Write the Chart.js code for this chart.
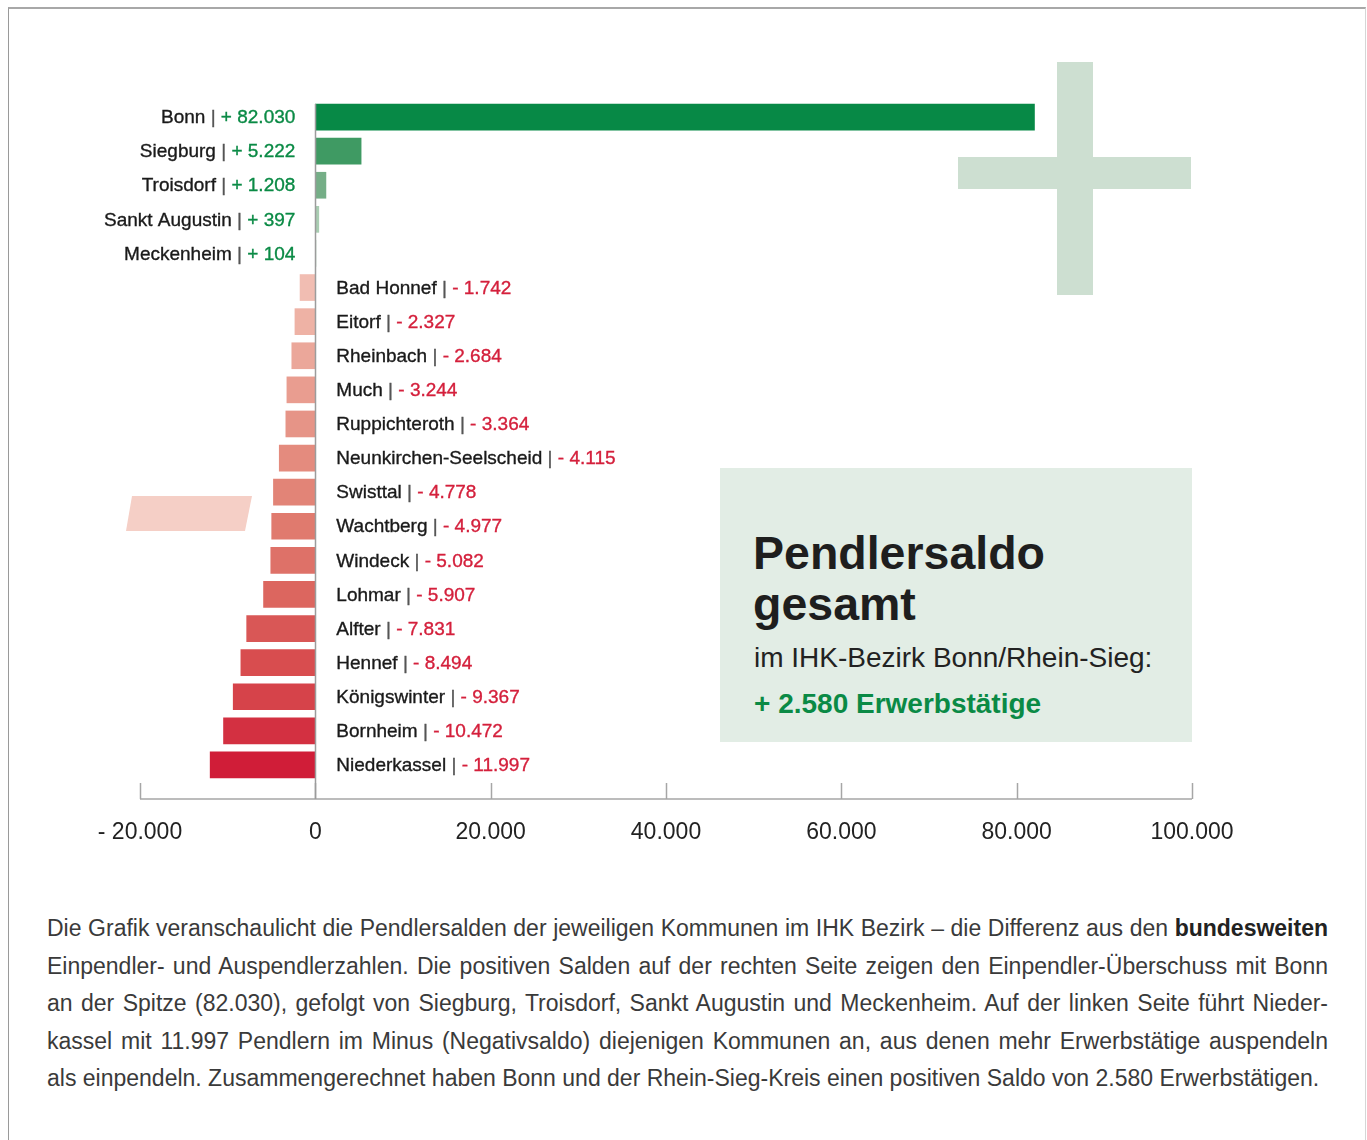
<!DOCTYPE html>
<html lang="de">
<head>
<meta charset="utf-8">
<title>Pendlersaldo</title>
<script src="https://cdn.jsdelivr.net/npm/chart.js"></script>
<style>
  html, body { margin: 0; padding: 0; background: #fff; }
  body { width: 1367px; height: 1140px; position: relative; overflow: hidden;
         font-family: "Liberation Sans", Arial, Helvetica, sans-serif; color: #222; }
  .frame { position: absolute; left: 8px; top: 7px; width: 1356px; height: 1200px;
           border-top: 2px solid #a8a8a8; border-left: 1px solid #9a9a9a; border-right: 1px solid #d6d6d6; }
  .plus-v { position: absolute; left: 1057px; top: 62px; width: 36px; height: 233px; background: #cddfd1; }
  .plus-h { position: absolute; left: 958px; top: 157px; width: 233px; height: 32px; background: #cddfd1; }
  .minus { position: absolute; left: 0; top: 0; }
  .box { position: absolute; left: 720px; top: 468px; width: 472px; height: 274px; background: #e2ede5; }
  .box-title { position: absolute; left: 753px; top: 528px; font-size: 46.5px; line-height: 51px; font-weight: bold; color: #1e1e1e; }
  .box-sub { position: absolute; left: 754px; top: 641px; font-size: 28px; line-height: 34px; color: #222; white-space: nowrap; }
  .box-sum { position: absolute; left: 754px; top: 687px; font-size: 28px; line-height: 34px; font-weight: bold; color: #0a8a45; white-space: nowrap; }
  #chart { position: absolute; left: 0; top: 0; }
  .text { position: absolute; left: 47px; top: 910px; width: 1281px; font-size: 23px; line-height: 37.5px; color: #3a3a3a; }
  .text div { text-align: justify; text-align-last: justify; white-space: nowrap; }
  .text div.last { text-align-last: left; }
  .text b { color: #222; }
</style>
</head>
<body>
<div class="frame"></div>
<div class="plus-v"></div>
<div class="plus-h"></div>
<svg class="minus" width="300" height="600"><polygon points="132,496 252,496 245,531 126,531" fill="#f5cfc6"/></svg>
<div class="box"></div>
<div class="box-title">Pendlersaldo<br>gesamt</div>
<div class="box-sub">im IHK-Bezirk Bonn/Rhein-Sieg:</div>
<div class="box-sum">+ 2.580 Erwerbstätige</div>
<canvas id="chart" width="1367" height="880"></canvas>
<div class="text">
  <div>Die Grafik veranschaulicht die Pendlersalden der jeweiligen Kommunen im IHK Bezirk – die Differenz aus den <b>bundesweiten</b></div>
  <div>Einpendler- und Auspendlerzahlen. Die positiven Salden auf der rechten Seite zeigen den Einpendler-Überschuss mit Bonn</div>
  <div>an der Spitze (82.030), gefolgt von Siegburg, Troisdorf, Sankt Augustin und Meckenheim. Auf der linken Seite führt Nieder-</div>
  <div>kassel mit 11.997 Pendlern im Minus (Negativsaldo) diejenigen Kommunen an, aus denen mehr Erwerbstätige auspendeln</div>
  <div class="last">als einpendeln. Zusammengerechnet haben Bonn und der Rhein-Sieg-Kreis einen positiven Saldo von 2.580 Erwerbstätigen.</div>
</div>
<script>
// Kommunen im IHK-Bezirk, von oben nach unten
const cities = ['Bonn', 'Siegburg', 'Troisdorf', 'Sankt Augustin', 'Meckenheim',
  'Bad Honnef', 'Eitorf', 'Rheinbach', 'Much', 'Ruppichteroth', 'Neunkirchen-Seelscheid',
  'Swisttal', 'Wachtberg', 'Windeck', 'Lohmar', 'Alfter', 'Hennef', 'Königswinter',
  'Bornheim', 'Niederkassel'];
const saldo = [82030, 5222, 1208, 397, 104,
  -1742, -2327, -2684, -3244, -3364, -4115,
  -4778, -4977, -5082, -5907, -7831, -8494, -9367,
  -10472, -11997];
const barColors = ['#078946', '#3f9a63', '#75ae87', '#a9cdb2', '#d9ebde',
  '#f1bdb2', '#eeb2a5', '#eba79a', '#e99d90', '#e69487', '#e48b7e',
  '#e28477', '#e07a6e', '#de7168', '#dc665f', '#d95756', '#d84d4f', '#d6434a',
  '#d33041', '#d01d38'];
const xTicks = [-20000, 0, 20000, 40000, 60000, 80000, 100000];

const GREEN = '#0a8a45';
const RED = '#d4203c';
const LABEL_FONT = '19px "Liberation Sans", Arial, sans-serif';

function fmt(v) {
  return Math.abs(v).toString().replace(/\B(?=(\d{3})+(?!\d))/g, '.');
}

// Achse mit Strichen nach oben, Nulllinie und Beschriftung der Balken
const pendlerPlugin = {
  id: 'pendler',
  afterDatasetsDraw(chart) {
    const ctx = chart.ctx;
    const x = chart.scales.x;
    const area = chart.chartArea;
    const axisY = area.bottom + 17;
    const zeroX = x.getPixelForValue(0);

    ctx.save();
    ctx.strokeStyle = '#a6a6a6';
    ctx.lineWidth = 1.5;
    ctx.beginPath();
    ctx.moveTo(x.getPixelForValue(xTicks[0]), axisY);
    ctx.lineTo(x.getPixelForValue(xTicks[xTicks.length - 1]), axisY);
    xTicks.forEach(t => {
      const px = Math.round(x.getPixelForValue(t)) + 0.5;
      ctx.moveTo(px, axisY);
      ctx.lineTo(px, axisY - 16);
    });
    ctx.stroke();

    ctx.strokeStyle = '#9c9c9c';
    ctx.beginPath();
    ctx.moveTo(Math.round(zeroX) + 0.5, area.top + 4);
    ctx.lineTo(Math.round(zeroX) + 0.5, axisY);
    ctx.stroke();

    // Labels: Name | Wert
    ctx.font = LABEL_FONT;
    ctx.textBaseline = 'middle';
    ctx.textAlign = 'left';
    ctx.lineWidth = 0.35;
    const meta = chart.getDatasetMeta(0);
    meta.data.forEach((bar, i) => {
      const v = saldo[i];
      const parts = [
        [cities[i], '#1a1a1a'],
        [' | ', '#555'],
        [(v >= 0 ? '+ ' : '- ') + fmt(v), v >= 0 ? GREEN : RED]
      ];
      const total = parts.reduce((s, p) => s + ctx.measureText(p[0]).width, 0);
      let px = v >= 0 ? zeroX - 20 - total : zeroX + 21;
      const py = bar.y + 1;
      parts.forEach(p => {
        ctx.fillStyle = p[1];
        ctx.strokeStyle = p[1];
        ctx.fillText(p[0], px, py);
        ctx.strokeText(p[0], px, py);
        px += ctx.measureText(p[0]).width;
      });
    });
    ctx.restore();
  }
};

new Chart(document.getElementById('chart'), {
  type: 'bar',
  data: {
    labels: cities,
    datasets: [{
      data: saldo,
      backgroundColor: barColors,
      borderWidth: 0,
      barThickness: 26
    }]
  },
  options: {
    indexAxis: 'y',
    responsive: false,
    animation: false,
    layout: { padding: { left: 140, right: 175, top: 100, bottom: 0 } },
    plugins: { legend: { display: false }, tooltip: { enabled: false } },
    scales: {
      y: { display: false },
      x: {
        min: -20000,
        max: 100000,
        afterFit: scale => { scale.height = 98; },
        afterBuildTicks: scale => { scale.ticks = xTicks.map(v => ({ value: v })); },
        grid: { display: false, drawTicks: false },
        border: { display: false },
        ticks: {
          padding: 37,
          maxRotation: 0,
          autoSkip: false,
          color: '#222',
          font: { family: '"Liberation Sans", Arial, sans-serif', size: 23 },
          callback: v => (v < 0 ? '- ' : '') + fmt(v)
        }
      }
    }
  },
  plugins: [pendlerPlugin]
});
</script>
</body>
</html>
